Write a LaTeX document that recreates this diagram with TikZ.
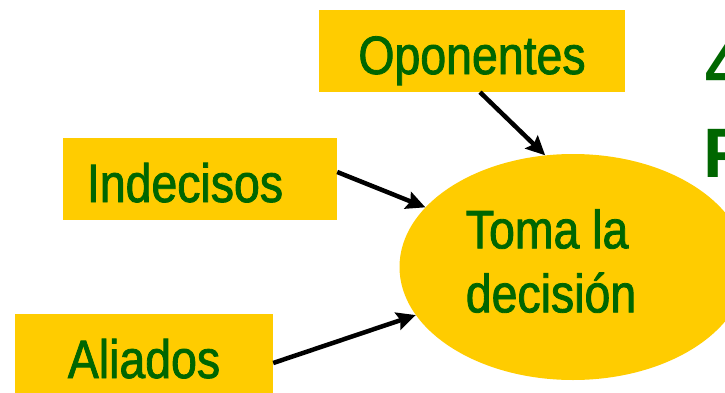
\documentclass[tikz,border=0pt]{standalone}
\usepackage{fontspec}
\setmainfont{Liberation Sans}[FakeStretch=0.86,FakeBold=1.5]
\newfontfamily\titulofont{Liberation Sans}
\usetikzlibrary{arrows.meta,shapes.geometric}
\definecolor{amarillo}{RGB}{255,204,0}
\definecolor{verde}{RGB}{0,102,0}

\begin{document}
\begin{tikzpicture}[x=1pt,y=1pt,
  caja/.style={fill=amarillo,text=verde,minimum height=82pt,inner sep=0pt,
    text height=46pt,text depth=0pt,font=\fontsize{54}{64}\selectfont},
  flecha/.style={-{Stealth[length=19pt,width=18pt,inset=3pt]},line width=4.5pt}]
\useasboundingbox (0,0) rectangle (725,392);
\clip (0,0) rectangle (725,392);
\node[caja,minimum width=306pt] (opo) at (472,341) {Oponentes};
\node[caja,minimum width=274pt] (ind) at (200,213) {Indecisos\hspace*{30pt}};
\node[caja,minimum width=258pt] (ali) at (144,37) {Aliados};
\node[ellipse,fill=amarillo,minimum width=347pt,minimum height=226pt,inner sep=0pt] (dec) at (573,125) {};
\node[text=verde,align=left,inner sep=0pt,font=\fontsize{54}{64}\selectfont] (tomala) at (551,131) {Toma la\\decisión};
\draw[flecha] ([xshift=8pt]opo.south) -- (dec.104);
\draw[flecha] ([yshift=7pt]ind.east) -- (dec.158);
\draw[flecha] ([yshift=-8pt]ali.east) -- (dec.197);
\node[text=verde,anchor=base west,inner sep=0pt,font=\titulofont\bfseries\fontsize{70}{70}\selectfont] (cuatro) at (705,302) {4};
\node[text=verde,anchor=base west,inner sep=0pt,font=\titulofont\bfseries\fontsize{70}{70}\selectfont] (pe) at (703,215) {P};
\end{tikzpicture}
\end{document}
